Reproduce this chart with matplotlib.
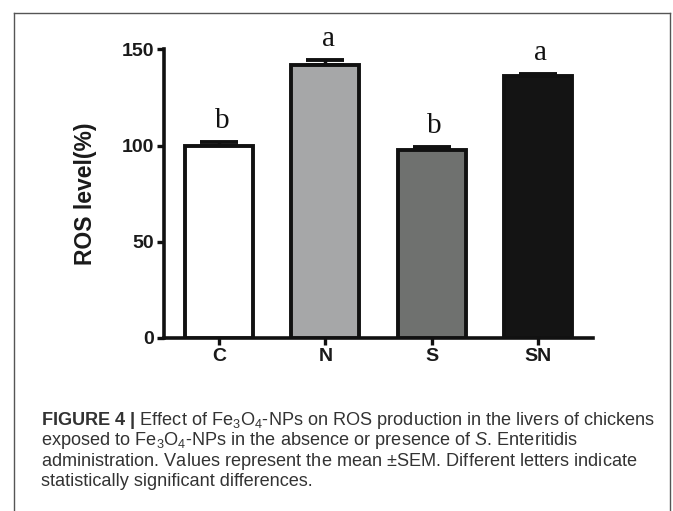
import matplotlib
matplotlib.use("Agg")
import matplotlib.pyplot as plt
from matplotlib.lines import Line2D

plt.rcParams['font.family'] = ['Liberation Sans', 'DejaVu Sans']
plt.rcParams['mathtext.fontset'] = 'custom'
plt.rcParams['mathtext.rm'] = 'Liberation Sans'
plt.rcParams['mathtext.it'] = 'Liberation Sans:italic'
plt.rcParams['mathtext.bf'] = 'Liberation Sans:bold'

categories = ["C", "N", "S", "SN"]
values = [100, 142, 97.5, 136]
errors = [2, 2.5, 2, 1.5]
letters = ["b", "a", "b", "a"]
colors = ["#ffffff", "#a6a7a8", "#6f716f", "#141414"]
yticks = [0, 50, 100, 150]
caption_lines = [
    r"$\mathbf{FIGURE\ 4\ |}$ Effect of Fe$_3$O$_4$-NPs on ROS production in the livers of chickens",
    r"exposed to Fe$_3$O$_4$-NPs in the absence or presence of $\mathit{S}$. Enteritidis",
    r"administration. Values represent the mean $\pm$SEM. Different letters indicate",
    r"statistically significant differences.",
]

W, H = 673, 511
fig = plt.figure(figsize=(W / 100, H / 100), dpi=100)
fig.patch.set_facecolor("white")

x0, x1 = 164, 593
y0, y1 = 338, 49.5
ax = fig.add_axes([x0 / W, 1 - y0 / H, (x1 - x0) / W, (y0 - y1) / H])

xs = list(range(len(categories)))
ax.bar(xs, values, width=0.64, color=colors, edgecolor="#111111",
       linewidth=2.8, zorder=3)
ax.errorbar(xs, values, yerr=[[0] * len(errors), errors], fmt="none",
            ecolor="#111111", elinewidth=2.5, capsize=14, capthick=2.8,
            zorder=2)
for x, v, e, t in zip(xs, values, errors, letters):
    ax.annotate(t, (x, v + e), xytext=(2, 10), textcoords="offset points",
                ha="center", va="baseline", fontsize=21,
                family="Liberation Serif", color="#111111",
                annotation_clip=False)

ax.set_xlim(-0.52, 3.52)
ax.set_ylim(0, 150)
ax.set_xticks(xs)
ax.set_xticklabels(categories, fontsize=14, fontweight="bold", color="#1a1a1a")
ax.set_yticks(yticks)
ax.set_yticklabels([str(t) for t in yticks], fontsize=14, fontweight="bold",
                   color="#1a1a1a")
ax.tick_params(axis="both", length=5, width=2.4, color="#111111", pad=2)
for s in ["top", "right"]:
    ax.spines[s].set_visible(False)
for s in ["left", "bottom"]:
    ax.spines[s].set_linewidth(2.6)
    ax.spines[s].set_color("#111111")
ax.set_ylabel("ROS level(%)", fontsize=16.5, fontweight="bold", color="#1a1a1a")
ax.yaxis.set_label_coords(-0.156, 0.5)

# frame
fc = "#555555"
fig.add_artist(Line2D([14 / W, 14 / W], [0, 1 - 13 / H], transform=fig.transFigure,
                      color=fc, lw=1.0))
fig.add_artist(Line2D([670 / W, 670 / W], [0, 1 - 13 / H], transform=fig.transFigure,
                      color=fc, lw=1.0))
fig.add_artist(Line2D([14 / W, 670 / W], [1 - 13 / H, 1 - 13 / H],
                      transform=fig.transFigure, color=fc, lw=1.0))

baselines = [424.5, 445, 465.5, 486]
for line, b in zip(caption_lines, baselines):
    fig.text(41 / W, 1 - b / H, line, fontsize=13.1, color="#333333",
             ha="left", va="baseline")

fig.savefig("out.png", dpi=100, facecolor="white")
